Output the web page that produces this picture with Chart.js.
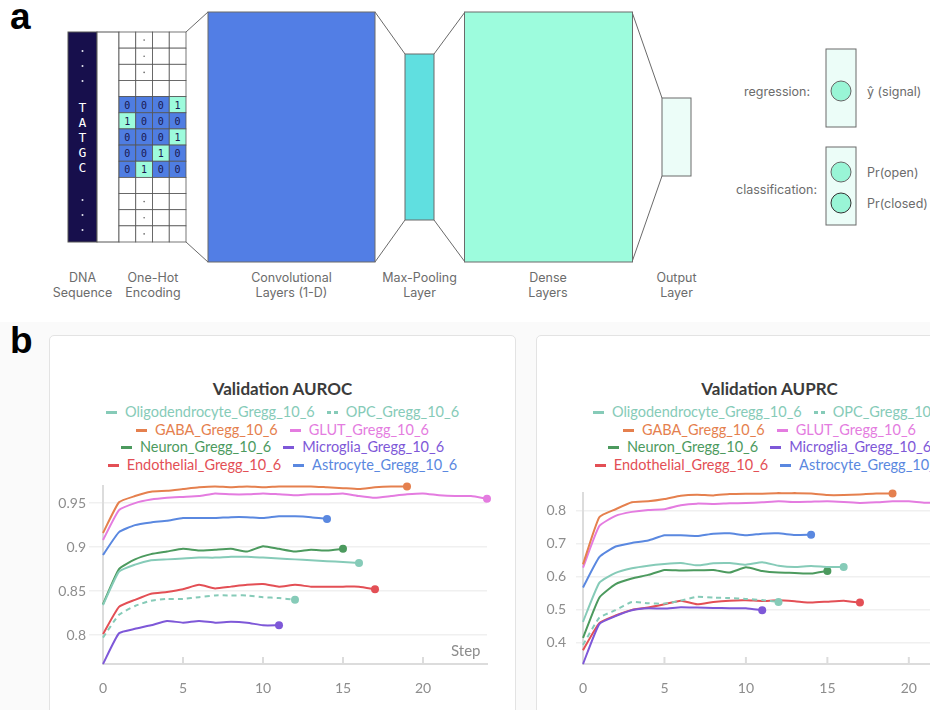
<!DOCTYPE html>
<html>
<head>
<meta charset="utf-8">
<script src="https://cdn.jsdelivr.net/npm/chart.js@4.4.1/dist/chart.umd.min.js"></script>
<style>
  body { margin: 0; width: 930px; height: 710px; overflow: hidden; background: #fff; position: relative; font-family: Inter, sans-serif; }
  .plabel { position: absolute; left: 10px; font: bold 37px "Liberation Sans", Arial, sans-serif; color: #000; line-height: 1; }
  #bgb { position: absolute; left: 0; top: 322px; width: 930px; height: 388px; background: #fafafa; }
  .card { position: absolute; top: 335px; width: 467px; height: 420px; background: #fff; border: 1px solid #e3e3e3; border-radius: 5px; box-sizing: border-box; }
  .ctitle { position: absolute; left: 0; right: 0; top: 42px; text-align: center; font: bold 17px Lato, sans-serif; color: #3b3b3b; }
  .legend { position: absolute; left: 0; right: 0; top: 67px; font: 14.5px Lato, sans-serif; }
  .lrow { text-align: center; height: 17.7px; line-height: 17.7px; white-space: nowrap; }
  .litem { display: inline-block; margin: 0 6px; }
  .mk { display: inline-block; width: 11px; height: 3px; vertical-align: middle; margin-right: 8px; position: relative; top: -1px; }
  .mk.dash { width: 4px; margin-right: 3px; }
  .mk.dash + .mk.dash { margin-right: 8px; }
  .card canvas { position: absolute; left: 0; top: 139px; }
  .steplab { position: absolute; font: 15px Lato, sans-serif; color: #8d8d8d; }
</style>
</head>
<body>

<div id="bgb"></div>
<div class="plabel" style="top:-2px">a</div>
<div class="plabel" style="top:322px">b</div>

<svg id="diagram" width="930" height="320" style="position:absolute;left:0;top:0"></svg>

<div class="card" id="cardL" style="left:49px">
  <div class="ctitle">Validation AUROC</div>
  <div class="legend" id="legL"></div>
  <canvas id="chartL" width="465" height="236"></canvas>
  <div class="steplab" style="left:401px;top:305px">Step</div>
</div>
<div class="card" id="cardR" style="left:536px">
  <div class="ctitle">Validation AUPRC</div>
  <div class="legend" id="legR"></div>
  <canvas id="chartR" width="465" height="236"></canvas>
  <div class="steplab" style="left:401px;top:305px">Step</div>
</div>

<script>
// ---- data ----
const seriesNames = ['Oligodendrocyte_Gregg_10_6', 'OPC_Gregg_10_6', 'GABA_Gregg_10_6', 'GLUT_Gregg_10_6',
                     'Neuron_Gregg_10_6', 'Microglia_Gregg_10_6', 'Endothelial_Gregg_10_6', 'Astrocyte_Gregg_10_6'];
const seriesColors = ['#86cbb8', '#86cbb8', '#e5804e', '#e47ce0', '#4c9a5e', '#7e58d8', '#e34f55', '#5a88e0'];
const dashedSeries = [false, true, false, false, false, false, false, false];

const aurocOligo = [0.834, 0.872, 0.880, 0.885, 0.886, 0.887, 0.888, 0.888, 0.889, 0.889, 0.888, 0.887, 0.886, 0.885, 0.884, 0.883, 0.882];
const aurocOPC = [0.797, 0.823, 0.833, 0.839, 0.841, 0.841, 0.843, 0.845, 0.845, 0.845, 0.843, 0.842, 0.840];
const aurocGABA = [0.916, 0.951, 0.958, 0.963, 0.964, 0.966, 0.968, 0.969, 0.968, 0.969, 0.968, 0.969, 0.969, 0.969, 0.968, 0.967, 0.966, 0.968, 0.969, 0.969];
const aurocGLUT = [0.908, 0.942, 0.950, 0.954, 0.956, 0.957, 0.958, 0.961, 0.960, 0.960, 0.961, 0.960, 0.959, 0.960, 0.960, 0.961, 0.958, 0.956, 0.958, 0.960, 0.961, 0.959, 0.958, 0.958, 0.955];
const aurocNeuron = [0.835, 0.875, 0.886, 0.892, 0.895, 0.898, 0.896, 0.897, 0.898, 0.895, 0.901, 0.898, 0.895, 0.897, 0.896, 0.898];
const aurocMicroglia = [0.767, 0.802, 0.807, 0.811, 0.816, 0.814, 0.816, 0.814, 0.815, 0.814, 0.811, 0.811];
const aurocEndo = [0.801, 0.832, 0.840, 0.847, 0.849, 0.852, 0.857, 0.853, 0.855, 0.857, 0.858, 0.855, 0.857, 0.855, 0.855, 0.855, 0.855, 0.852];
const aurocAstro = [0.891, 0.917, 0.925, 0.928, 0.930, 0.933, 0.933, 0.933, 0.934, 0.934, 0.933, 0.935, 0.935, 0.934, 0.932];

const auprcOligo = [0.464, 0.582, 0.612, 0.626, 0.634, 0.639, 0.642, 0.635, 0.641, 0.642, 0.637, 0.644, 0.634, 0.630, 0.633, 0.630, 0.630];
const auprcOPC = [0.394, 0.476, 0.499, 0.524, 0.520, 0.519, 0.528, 0.540, 0.537, 0.536, 0.533, 0.530, 0.524];
const auprcGABA = [0.638, 0.781, 0.805, 0.826, 0.829, 0.836, 0.846, 0.849, 0.847, 0.851, 0.852, 0.852, 0.854, 0.854, 0.853, 0.848, 0.848, 0.850, 0.853, 0.853];
const auprcGLUT = [0.628, 0.754, 0.785, 0.797, 0.803, 0.805, 0.817, 0.822, 0.821, 0.823, 0.824, 0.826, 0.829, 0.827, 0.828, 0.829, 0.827, 0.824, 0.826, 0.829, 0.829, 0.825, 0.826, 0.827, 0.826];
const auprcNeuron = [0.415, 0.537, 0.578, 0.595, 0.606, 0.621, 0.619, 0.620, 0.621, 0.613, 0.629, 0.618, 0.613, 0.612, 0.610, 0.618];
const auprcMicroglia = [0.336, 0.457, 0.481, 0.499, 0.505, 0.504, 0.508, 0.507, 0.506, 0.505, 0.505, 0.499];
const auprcEndo = [0.378, 0.460, 0.483, 0.500, 0.507, 0.517, 0.528, 0.517, 0.524, 0.528, 0.529, 0.527, 0.529, 0.526, 0.522, 0.525, 0.528, 0.522];
const auprcAstro = [0.568, 0.660, 0.692, 0.703, 0.710, 0.726, 0.726, 0.724, 0.731, 0.732, 0.726, 0.731, 0.732, 0.727, 0.728];

const xMax = 24;
const xTickStep = 5;
const aurocRange = [0.767, 0.969];
const auprcRange = [0.336, 0.853];

// one-hot rows for T A T G C (columns A C G T)
const oneHot = [[0,0,0,1],[1,0,0,0],[0,0,0,1],[0,0,1,0],[0,1,0,0]];
const dnaLetters = ['T', 'A', 'T', 'G', 'C'];

// ---- panel a: diagram ----
const svg = document.getElementById('diagram');
const NS = 'http://www.w3.org/2000/svg';
function el(tag, attrs, text) {
  const e = document.createElementNS(NS, tag);
  for (const k in attrs) e.setAttribute(k, attrs[k]);
  if (text !== undefined) e.textContent = text;
  svg.appendChild(e);
  return e;
}
const edge = '#6a6a6a';
// DNA column
el('rect', {x: 68, y: 32, width: 29, height: 210, fill: '#170f4c', stroke: '#555', 'stroke-width': 1});
el('rect', {x: 97, y: 32, width: 22, height: 210, fill: '#fff', stroke: '#555', 'stroke-width': 1});
[51, 66, 81, 200, 215, 230].forEach(y => el('circle', {cx: 82.5, cy: y, r: 1, fill: '#e8e8f0'}));
dnaLetters.forEach((ch, i) => el('text', {x: 82.5, y: 107 + i * 15, fill: '#fff', 'font-family': 'DejaVu Sans Mono', 'font-size': 13,
  'text-anchor': 'middle', 'dominant-baseline': 'central'}, ch));

// one-hot grid
const gx = 119, gy = 32, cw = 67 / 4, ch = 210 / 13;
for (let r = 0; r < 13; r++) {
  for (let c = 0; c < 4; c++) {
    let fill = '#fff';
    const hr = r - 4;
    if (hr >= 0 && hr < 5) fill = oneHot[hr][c] ? '#9dfbdc' : '#4f7de2';
    el('rect', {x: gx + c * cw, y: gy + r * ch, width: cw, height: ch, fill: fill, stroke: '#555', 'stroke-width': 0.8});
    if (hr >= 0 && hr < 5) {
      el('text', {x: gx + c * cw + cw / 2, y: gy + r * ch + ch / 2 + 0.5, fill: '#1a1850', 'font-family': 'DejaVu Sans Mono',
        'font-size': 10, 'text-anchor': 'middle', 'dominant-baseline': 'central'}, String(oneHot[hr][c]));
    }
  }
}
[0, 1, 2, 10, 11, 12].forEach(r => el('circle', {cx: gx + 1.5 * cw, cy: gy + r * ch + ch / 2, r: 0.8, fill: '#666'}));

// connectors
function line(x1, y1, x2, y2) { el('line', {x1, y1, x2, y2, stroke: edge, 'stroke-width': 1}); }
line(186, 32, 208, 12); line(186, 242, 208, 262);
line(375, 12, 405, 54); line(375, 262, 405, 220);
line(434, 54, 465, 12); line(434, 220, 465, 262);
line(632, 12, 662, 98); line(632, 262, 662, 176);

el('rect', {x: 208, y: 12, width: 167, height: 250, fill: '#527ee5', stroke: edge, 'stroke-width': 1});
el('rect', {x: 405, y: 54, width: 29, height: 166, fill: '#60dfe0', stroke: edge, 'stroke-width': 1});
el('rect', {x: 464.5, y: 12, width: 168, height: 250, fill: '#9dfcdd', stroke: edge, 'stroke-width': 1});
el('rect', {x: 662, y: 98, width: 29, height: 78, fill: '#ecfdf8', stroke: edge, 'stroke-width': 1});

// outputs
el('rect', {x: 826, y: 49, width: 30, height: 78, fill: '#ecfdf8', stroke: edge, 'stroke-width': 1});
el('circle', {cx: 841, cy: 91, r: 10, fill: '#99f5d6', stroke: '#666', 'stroke-width': 1});
el('rect', {x: 826, y: 147, width: 30, height: 78, fill: '#ecfdf8', stroke: edge, 'stroke-width': 1});
el('circle', {cx: 841, cy: 172, r: 10, fill: '#99f5d6', stroke: '#666', 'stroke-width': 1});
el('circle', {cx: 841, cy: 203, r: 10, fill: '#99f5d6', stroke: '#333', 'stroke-width': 1});

const txt = {fill: '#6c6c6c', 'font-family': 'Inter', 'font-size': 12.5, 'dominant-baseline': 'central'};
el('text', Object.assign({x: 810, y: 91, 'text-anchor': 'end'}, txt), 'regression:');
el('text', Object.assign({x: 867, y: 91}, txt), 'ŷ (signal)');
el('text', Object.assign({x: 817, y: 189, 'text-anchor': 'end'}, txt), 'classification:');
el('text', Object.assign({x: 867, y: 172}, txt), 'Pr(open)');
el('text', Object.assign({x: 867, y: 203}, txt), 'Pr(closed)');

const layerLabels = [[82.5, 'DNA', 'Sequence'], [153, 'One-Hot', 'Encoding'], [291.5, 'Convolutional', 'Layers (1-D)'],
                     [419.5, 'Max-Pooling', 'Layer'], [548, 'Dense', 'Layers'], [676.5, 'Output', 'Layer']];
layerLabels.forEach(([x, a, b]) => {
  el('text', Object.assign({x, y: 277, 'text-anchor': 'middle'}, txt), a);
  el('text', Object.assign({x, y: 292, 'text-anchor': 'middle'}, txt), b);
});

// ---- panel b: charts ----
function buildLegend(id) {
  const box = document.getElementById(id);
  for (let r = 0; r < 4; r++) {
    const row = document.createElement('div');
    row.className = 'lrow';
    for (let k = 0; k < 2; k++) {
      const i = r * 2 + k;
      const item = document.createElement('span');
      item.className = 'litem';
      item.style.color = seriesColors[i];
      const mk = '<span class="mk' + (dashedSeries[i] ? ' dash' : '') + '" style="background:' + seriesColors[i] + '"></span>';
      item.innerHTML = (dashedSeries[i] ? mk + mk : mk) + seriesNames[i];
      row.appendChild(item);
    }
    box.appendChild(row);
  }
}
buildLegend('legL');
buildLegend('legR');

const innerTicks = {
  id: 'innerTicks',
  afterDatasetsDraw(chart) {
    const xs = chart.scales.x, ctx = chart.ctx, y0 = chart.chartArea.bottom;
    ctx.save();
    ctx.strokeStyle = '#dcdcdc';
    ctx.lineWidth = 2;
    for (let v = xTickStep; v <= xMax; v += xTickStep) {
      const px = xs.getPixelForValue(v);
      ctx.beginPath(); ctx.moveTo(px, y0); ctx.lineTo(px, y0 - 7); ctx.stroke();
    }
    ctx.restore();
  }
};

function makeChart(id, seriesList, range, yStep, yWidth, tickLen) {
  const datasets = seriesList.map((vals, i) => ({
    label: seriesNames[i],
    data: vals.map((v, s) => ({x: s, y: v})),
    borderColor: seriesColors[i],
    backgroundColor: seriesColors[i],
    borderWidth: 2,
    borderDash: dashedSeries[i] ? [5, 4] : [],
    pointRadius: ctx => ctx.dataIndex === vals.length - 1 ? 4 : 0,
    pointBorderWidth: 0,
    tension: 0.15,
    clip: 6,
    fill: false
  }));
  return new Chart(document.getElementById(id), {
    type: 'line',
    data: {datasets},
    options: {
      responsive: false,
      animation: false,
      layout: {padding: {top: 10, right: 28, left: 0, bottom: 0}},
      plugins: {legend: {display: false}, title: {display: false}, tooltip: {enabled: false}},
      scales: {
        x: {
          type: 'linear', min: 0, max: xMax,
          ticks: {stepSize: xTickStep, includeBounds: false, color: '#8d8d8d', font: {family: 'Lato', size: 14}, padding: 16, maxRotation: 0},
          grid: {display: true, drawOnChartArea: false, drawTicks: false},
          border: {color: '#dcdcdc', width: 2},
          afterFit: s => { s.height = 47; }
        },
        y: {
          min: range[0], max: range[1],
          ticks: {stepSize: yStep, includeBounds: false, color: '#8d8d8d', font: {family: 'Lato', size: 14}, padding: 17 - tickLen,
                  callback: v => String(+v.toFixed(2))},
          grid: {color: '#f0f0f0', lineWidth: 1.5, tickLength: tickLen},
          border: {color: '#dcdcdc', width: 2},
          afterFit: s => { s.width = yWidth; }
        }
      }
    },
    plugins: [innerTicks]
  });
}

makeChart('chartL', [aurocOligo, aurocOPC, aurocGABA, aurocGLUT, aurocNeuron, aurocMicroglia, aurocEndo, aurocAstro],
  aurocRange, 0.05, 53, 14);
makeChart('chartR', [auprcOligo, auprcOPC, auprcGABA, auprcGLUT, auprcNeuron, auprcMicroglia, auprcEndo, auprcAstro],
  auprcRange, 0.1, 46, 7);
</script>
</body>
</html>
